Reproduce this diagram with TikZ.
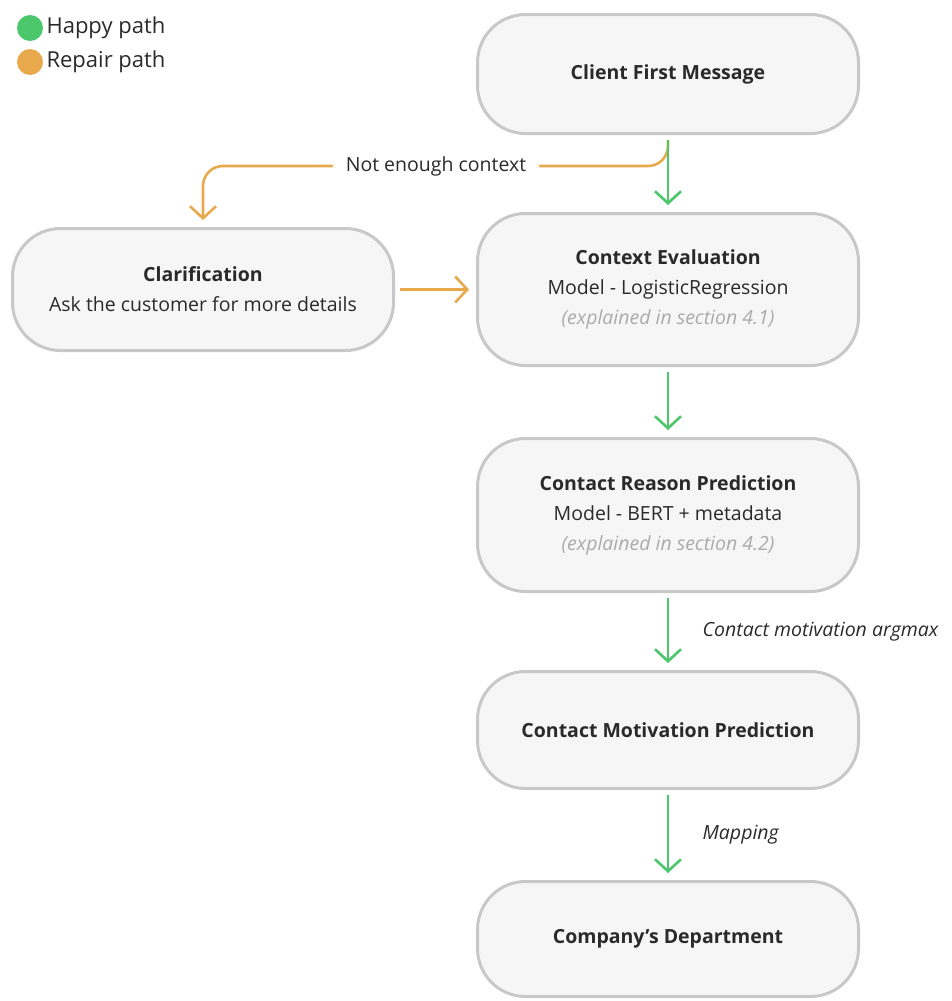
\documentclass[tikz,border=0pt]{standalone}
\usepackage{fontspec}
\setmainfont{Open Sans}
\usetikzlibrary{arrows.meta, positioning}
\definecolor{happy}{HTML}{4CC76B}
\definecolor{repair}{HTML}{E8A94C}
\definecolor{boxline}{HTML}{C8C8C8}
\definecolor{boxfill}{HTML}{F6F6F6}
\definecolor{ink}{HTML}{2A2A2A}
\definecolor{note}{HTML}{ABABAB}

\begin{document}
\begin{tikzpicture}[x=1pt,y=-1pt,
	box/.style={draw=boxline, fill=boxfill, line width=3pt, rounded corners=48pt, minimum width=381pt, align=center, text=ink, font=\fontsize{19.5pt}{30pt}\selectfont},
	happyline/.style={draw=happy, line width=2.6pt, shorten <=5pt, shorten >=7pt, -{Straight Barb[length=12pt,width=26pt]}},
	repairline/.style={draw=repair, line width=2.6pt, shorten <=5pt, shorten >=7pt, -{Straight Barb[length=12pt,width=26pt]}},
	lbl/.style={text=ink, font=\fontsize{19.5pt}{22pt}\selectfont\itshape}]
	\useasboundingbox (0,0) rectangle (952,1001);
	% legend
	\fill[happy] (30,28) circle (13);
	\fill[repair] (30,62) circle (13);
	\node[anchor=west, text=ink, font=\fontsize{22pt}{24pt}\selectfont] (happytxt) at (43,28) {Happy path};
	\node[anchor=west, text=ink, font=\fontsize{22pt}{24pt}\selectfont] (repairtxt) at (43,62) {Repair path};
	% boxes
	\node[box, minimum height=119pt] (first) at (668,74) {\textbf{Client First Message}};
	\node[box, minimum height=152pt, below=77pt of first] (ctxeval) {\textbf{Context Evaluation}\\Model - LogisticRegression\\\textcolor{note}{\itshape (explained in section 4.1)}};
	\node[box, minimum height=122pt, left=81pt of ctxeval] (clarif) {\textbf{Clarification}\\Ask the customer for more details};
	\node[box, minimum height=153pt, below=70pt of ctxeval] (reason) {\textbf{Contact Reason Prediction}\\Model - BERT + metadata\\\textcolor{note}{\itshape (explained in section 4.2)}};
	\node[box, minimum height=117pt, below=77pt of reason] (motiv) {\textbf{Contact Motivation Prediction}};
	\node[box, minimum height=115pt, below=90pt of motiv] (dept) {\textbf{Company’s Department}};
	% connectors
	\coordinate (gap) at (436,166);
	\draw[repairline, rounded corners=20pt] (first.south) |- (gap) node[fill=white, inner xsep=13pt, text=ink, font=\fontsize{19.5pt}{22pt}\selectfont] (notenough) {Not enough context} -| (clarif.north);
	\draw[repairline] (clarif.east) -- (ctxeval.west);
	\draw[happyline] (first.south) -- (ctxeval.north);
	\draw[happyline] (ctxeval.south) -- (reason.north);
	\draw[happyline] (reason.south) -- (motiv.north) node[midway, right=30pt, lbl] (argmax) {Contact motivation argmax};
	\draw[happyline] (motiv.south) -- (dept.north) node[midway, right=30pt, lbl] (mapping) {Mapping};
\end{tikzpicture}
\end{document}
